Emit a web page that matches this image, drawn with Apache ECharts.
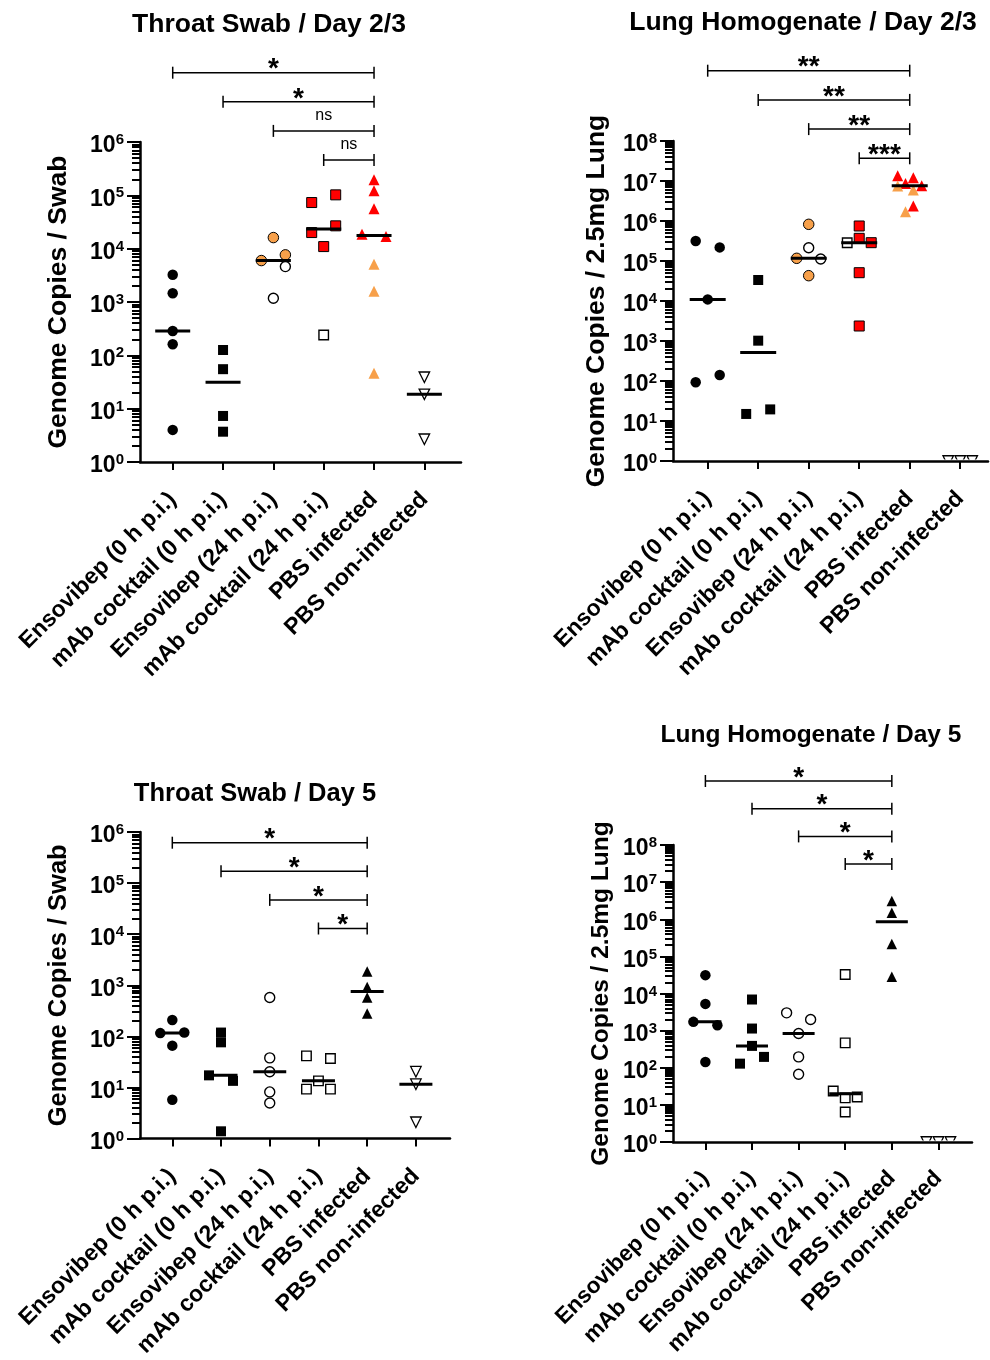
<!DOCTYPE html>
<html><head><meta charset="utf-8">
<script src="https://cdn.jsdelivr.net/npm/echarts@6/dist/echarts.min.js"></script>
<style>html,body{margin:0;padding:0;background:#fff}#c{width:990px;height:1360px}</style>
</head><body><div id="c"></div>
<script>
// ---------------- DATA ----------------
const categories = ['Ensovibep (0 h p.i.)', 'mAb cocktail (0 h p.i.)', 'Ensovibep (24 h p.i.)', 'mAb cocktail (24 h p.i.)', 'PBS infected', 'PBS non-infected'];
const titles = ['Throat Swab / Day 2/3', 'Lung Homogenate / Day 2/3', 'Throat Swab / Day 5', 'Lung Homogenate / Day 5'];
const yNames = ['Genome Copies / Swab', 'Genome Copies / 2.5mg Lung', 'Genome Copies / Swab', 'Genome Copies / 2.5mg Lung'];
const swabDecades = [1, 10, 100, 1e3, 1e4, 1e5, 1e6];
const lungDecades = [1, 10, 100, 1e3, 1e4, 1e5, 1e6, 1e7, 1e8];

// Throat swab, day 2/3
const ts23_enso0 = [3236, 1462, 287, 161, 4.0];
const ts23_mab0 = [126, 55, 7.3, 3.7];
const ts23_enso24_orange = [16144, 5984, 7656];
const ts23_enso24_white = [4613, 1178];
const ts23_mab24_red = [73282, 102100, 20045, 26792, 10940];
const ts23_mab24_white = [241];
const ts23_pbs_red = [195000, 121300, 56234, 18620, 16870];
const ts23_pbs_orange = [5117, 1585, 46];
const ts23_noninf = [38.8, 18.6, 2.67];
const ts23_brFrom = [0, 1, 2, 3];
const ts23_brTo = [4, 4, 4, 4];
const ts23_brLabel = ['*', '*', 'ns', 'ns'];

// Lung homogenate, day 2/3
const lh23_enso0 = [316000, 219000, 10960, 141, 93];
const lh23_mab0 = [33500, 1019, 15, 19.5];
const lh23_enso24_orange = [826000, 116700, 42950];
const lh23_enso24_white = [215300, 112200];
const lh23_mab24_red = [750000, 369000, 287000, 51000, 2371];
const lh23_mab24_white = [287000];
const lh23_pbs_red = [13600000, 12100000, 8710000, 7640000, 2370000];
const lh23_pbs_orange = [7500000, 5960000, 1710000];
const lh23_noninf = [1, 1, 1];
const lh23_brFrom = [0, 1, 2, 3];
const lh23_brTo = [4, 4, 4, 4];
const lh23_brLabel = ['**', '**', '**', '***'];

// Throat swab, day 5
const ts5_enso0 = [209, 116, 119, 66, 5.75];
const ts5_mab0 = [119, 76.6, 17.3, 13.5, 1.39];
const ts5_enso24 = [577, 38, 20.4, 8.2, 4.98];
const ts5_mab24 = [41.6, 37, 13.5, 9.3, 9.3];
const ts5_pbs = [1862, 929, 577, 282];
const ts5_noninf = [20.4, 11.6, 2.09];
const ts5_brFrom = [0, 1, 2, 3];
const ts5_brTo = [4, 4, 4, 4];
const ts5_brLabel = ['*', '*', '*', '*'];

// Lung homogenate, day 5
const lh5_enso0 = [31190, 5248, 1722, 1400, 143.6];
const lh5_mab0 = [6887, 1138, 388, 196, 129];
const lh5_enso24 = [3013, 1991, 834, 196, 66.8];
const lh5_mab24 = [32500, 468, 23.7, 15.4, 16.3, 6.44];
const lh5_pbs = [3090000, 1496000, 213800, 28120];
const lh5_noninf = [1, 1, 1];
const lh5_brFrom = [0, 1, 2, 3];
const lh5_brTo = [4, 4, 4, 4];
const lh5_brLabel = ['*', '*', '*', '*'];

// ---------------- LAYOUT / STYLE ----------------
const FONT = '"Liberation Sans", Arial, Helvetica, sans-serif';
const ORANGE = '#F7A04A';
const RED = '#FF0000';
const SLOT_PX = 12;

const styles = {
  blackCircle: {symbol: 'circle', size: 10.5, fill: '#000', stroke: '#000', bw: 0},
  orangeCircle: {symbol: 'circle', size: 10.5, fill: ORANGE, stroke: '#000', bw: 1},
  whiteCircle: {symbol: 'circle', size: 10, fill: '#fff', stroke: '#000', bw: 1.4},
  blackSquare: {symbol: 'rect', size: 10, fill: '#000', stroke: '#000', bw: 0},
  redSquare: {symbol: 'rect', size: 10, fill: RED, stroke: '#000', bw: 1},
  whiteSquare: {symbol: 'rect', size: 9.5, fill: '#fff', stroke: '#000', bw: 1.4},
  redTri: {symbol: 'triangle', size: 11, fill: RED, stroke: RED, bw: 0},
  orangeTri: {symbol: 'triangle', size: 11, fill: ORANGE, stroke: ORANGE, bw: 0},
  blackTri: {symbol: 'triangle', size: 10.5, fill: '#000', stroke: '#000', bw: 0},
  downTri: {symbol: 'triangle', size: 10.5, fill: '#fff', stroke: '#000', bw: 1.3, rotate: 180}
};

const panels = [
  {grid: {left: 140, top: 142, width: 321, height: 320}, xMin: -0.65, xMax: 5.728, decades: swabDecades,
   nameGap: 68, nameSize: 26.5, titleX: 264, titleY: 6, titleSize: 26.5, labelSize: 23, labelMargin: 34,
   brFirst: 72.7, brStep: 29.1, brFrom: ts23_brFrom, brTo: ts23_brTo, brLabel: ts23_brLabel, medW: 35,
   groups: [
     {g: 0, sets: [[ts23_enso0, 'blackCircle', [0, 0, 0, 0, 0]]]},
     {g: 1, sets: [[ts23_mab0, 'blackSquare', [0, 0, 0, 0]]]},
     {g: 2, sets: [[ts23_enso24_orange, 'orangeCircle', [0, -1, 1]], [ts23_enso24_white, 'whiteCircle', [1, 0]]]},
     {g: 3, sets: [[ts23_mab24_red, 'redSquare', [-1, 1, -1, 1, 0]], [ts23_mab24_white, 'whiteSquare', [0]]]},
     {g: 4, sets: [[ts23_pbs_red, 'redTri', [0, 0, 0, -1, 1]], [ts23_pbs_orange, 'orangeTri', [0, 0, 0]]]},
     {g: 5, sets: [[ts23_noninf, 'downTri', [0, 0, 0]]]}
   ]},
  {grid: {left: 673, top: 141, width: 315, height: 320}, xMin: -0.687, xMax: 5.55, decades: lungDecades,
   nameGap: 63, nameSize: 26.5, titleX: 798, titleY: 4, titleSize: 26.5, labelSize: 23, labelMargin: 34,
   brFirst: 70.7, brStep: 29.2, brFrom: lh23_brFrom, brTo: lh23_brTo, brLabel: lh23_brLabel, medW: 36,
   groups: [
     {g: 0, sets: [[lh23_enso0, 'blackCircle', [-1, 1, 0, 1, -1]]]},
     {g: 1, sets: [[lh23_mab0, 'blackSquare', [0, 0, -1, 1]]]},
     {g: 2, sets: [[lh23_enso24_orange, 'orangeCircle', [0, -1, 0]], [lh23_enso24_white, 'whiteCircle', [0, 1]]]},
     {g: 3, sets: [[lh23_mab24_red, 'redSquare', [0, 0, 1, 0, 0]], [lh23_mab24_white, 'whiteSquare', [-1]]]},
     {g: 4, sets: [[lh23_pbs_red, 'redTri', [-1, 0.3, -0.35, 1, 0.3]], [lh23_pbs_orange, 'orangeTri', [-1, 0.3, -0.35]]]},
     {g: 5, lod: true, sets: [[lh23_noninf, 'downTri', [-1, 0, 1]]]}
   ]},
  {grid: {left: 140, top: 832, width: 310, height: 310}, xMin: -0.663, xMax: 5.70, decades: swabDecades,
   nameGap: 68, nameSize: 25.5, titleX: 250, titleY: 776, titleSize: 25.5, labelSize: 23, labelMargin: 34,
   brFirst: 842.7, brStep: 28.6, brFrom: ts5_brFrom, brTo: ts5_brTo, brLabel: ts5_brLabel, medW: 33,
   groups: [
     {g: 0, sets: [[ts5_enso0, 'blackCircle', [0, -1, 1, 0, 0]]]},
     {g: 1, sets: [[ts5_mab0, 'blackSquare', [0, 0, -1, 1, 0]]]},
     {g: 2, sets: [[ts5_enso24, 'whiteCircle', [0, 0, 0, 0, 0]]]},
     {g: 3, sets: [[ts5_mab24, 'whiteSquare', [-1, 1, 0, -1, 1]]]},
     {g: 4, sets: [[ts5_pbs, 'blackTri', [0, 0, 0, 0]]]},
     {g: 5, sets: [[ts5_noninf, 'downTri', [0, 0, 0]]]}
   ]},
  {grid: {left: 673, top: 845, width: 299, height: 297}, xMin: -0.695, xMax: 5.72, decades: lungDecades,
   nameGap: 59, nameSize: 24.5, titleX: 806, titleY: 718, titleSize: 24.5, labelSize: 22.5, labelMargin: 33,
   brFirst: 781, brStep: 27.7, brFrom: lh5_brFrom, brTo: lh5_brTo, brLabel: lh5_brLabel, medW: 32,
   groups: [
     {g: 0, sets: [[lh5_enso0, 'blackCircle', [0, 0, -1, 1, 0]]]},
     {g: 1, sets: [[lh5_mab0, 'blackSquare', [0, 0, 0, 1, -1]]]},
     {g: 2, sets: [[lh5_enso24, 'whiteCircle', [-1, 1, 0, 0, 0]]]},
     {g: 3, sets: [[lh5_mab24, 'whiteSquare', [0, 0, -1, 0, 1, 0]]]},
     {g: 4, sets: [[lh5_pbs, 'blackTri', [0, 0, 0, 0]]]},
     {g: 5, lod: true, sets: [[lh5_noninf, 'downTri', [-1, 0, 1]]]}
   ]}
];

function median(arr) {
  const s = arr.slice().sort((a, b) => a - b);
  const n = s.length;
  return n % 2 ? s[(n - 1) / 2] : (s[n / 2 - 1] + s[n / 2]) / 2;
}
function minorTicks(decades) {
  const out = [];
  for (let i = 0; i < decades.length - 1; i++) for (let k = 2; k <= 9; k++) out.push(k * decades[i]);
  return out;
}
const catIdx = categories.map((_, i) => i);

const option = {
  animation: false,
  backgroundColor: '#fff',
  title: [], grid: [], xAxis: [], yAxis: [], series: []
};

panels.forEach((p, k) => {
  const spacing = p.grid.width / (p.xMax - p.xMin);
  option.title.push({
    text: titles[k], left: p.titleX, top: p.titleY, textAlign: 'center',
    textStyle: {fontFamily: FONT, fontSize: p.titleSize, fontWeight: 'bold', color: '#000'}
  });
  option.grid.push(Object.assign({containLabel: false}, p.grid));
  option.xAxis.push({
    type: 'value', gridIndex: k, min: p.xMin, max: p.xMax,
    axisLine: {show: true, onZero: false, lineStyle: {color: '#000', width: 2.5}},
    axisTick: {show: true, customValues: catIdx, length: 8, lineStyle: {color: '#000', width: 2}},
    axisLabel: {show: true, customValues: catIdx, formatter: v => categories[Math.round(v)], rotate: 45,
      margin: p.labelMargin, fontFamily: FONT, fontSize: p.labelSize, fontWeight: 'bold', color: '#000', hideOverlap: false},
    splitLine: {show: false}
  });
  const yMax = p.decades[p.decades.length - 1];
  option.yAxis.push({
    type: 'log', logBase: 10, gridIndex: k, min: 1, max: yMax, position: 'left',
    axisLine: {show: true, onZero: false, lineStyle: {color: '#000', width: 2.5}},
    axisTick: {show: true, customValues: p.decades, length: 13, lineStyle: {color: '#000', width: 2}},
    axisLabel: {show: true, customValues: p.decades, margin: 16, padding: [8, 0, 0, 0],
      formatter: v => '{b|10}{s|' + Math.round(Math.log10(v)) + '}',
      rich: {
        b: {fontFamily: FONT, fontSize: 23, fontWeight: 'bold', color: '#000', lineHeight: 27},
        s: {fontFamily: FONT, fontSize: 15, fontWeight: 'bold', color: '#000', verticalAlign: 'top'}
      }},
    splitLine: {show: false},
    name: yNames[k], nameLocation: 'middle', nameGap: p.nameGap,
    nameTextStyle: {fontFamily: FONT, fontSize: p.nameSize, fontWeight: 'bold', color: '#000'}
  });
  option.yAxis.push({
    type: 'log', logBase: 10, gridIndex: k, min: 1, max: yMax, position: 'left',
    axisLine: {show: false, onZero: false},
    axisTick: {show: true, customValues: minorTicks(p.decades), length: 8, lineStyle: {color: '#000', width: 2}},
    axisLabel: {show: false}, splitLine: {show: false}
  });
  const yIdx = 2 * k;
  const meds = [];
  p.groups.forEach(grp => {
    let all = [];
    grp.sets.forEach(([vals, st, slots]) => {
      all = all.concat(vals);
      const s = styles[st];
      const data = vals.map((v, i) => [grp.g + slots[i] * SLOT_PX / spacing, v]);
      if (grp.lod) {
        option.series.push({
          type: 'custom', xAxisIndex: k, yAxisIndex: yIdx, data, z: 3, silent: true,
          renderItem: (params, api) => {
            const c = api.coord([api.value(0), api.value(1)]);
            const h = s.size;
            const cs = params.coordSys;
            return {type: 'polygon', shape: {points: [[c[0] - h / 2, c[1] - h / 2], [c[0] + h / 2, c[1] - h / 2], [c[0], c[1] + h / 2]]},
              style: {fill: s.fill, stroke: s.stroke, lineWidth: s.bw},
              clipPath: {type: 'rect', shape: {x: cs.x, y: cs.y, width: cs.width, height: cs.height - 1.5}}};
          }
        });
      } else {
        option.series.push({
          type: 'scatter', xAxisIndex: k, yAxisIndex: yIdx, data, silent: true, z: 3,
          symbol: s.symbol, symbolSize: s.size, symbolRotate: s.rotate || 0,
          itemStyle: {color: s.fill, borderColor: s.stroke, borderWidth: s.bw, opacity: 1}
        });
      }
    });
    if (!grp.lod) meds.push([grp.g, median(all)]);
  });
  // median lines
  option.series.push({
    type: 'custom', xAxisIndex: k, yAxisIndex: yIdx, data: meds, z: 5, silent: true,
    renderItem: (params, api) => {
      const c = api.coord([api.value(0), api.value(1)]);
      return {type: 'line', shape: {x1: c[0] - p.medW / 2, y1: c[1], x2: c[0] + p.medW / 2, y2: c[1]},
        style: {stroke: '#000', lineWidth: 3}};
    }
  });
  // significance brackets
  const brData = p.brFrom.map((f, i) => [f, p.brTo[i], i + 1]);
  option.series.push({
    type: 'custom', xAxisIndex: k, yAxisIndex: yIdx, data: brData, z: 6, silent: true, clip: false,
    dimensions: ['from', 'to', 'row'], encode: {x: [0, 1], y: 2},
    renderItem: (params, api) => {
      const x1 = api.coord([api.value(0), 1])[0];
      const x2 = api.coord([api.value(1), 1])[0];
      const y = p.brFirst + (api.value(2) - 1) * p.brStep;
      const lab = p.brLabel[params.dataIndex];
      const isNs = lab === 'ns';
      return {type: 'group', children: [
        {type: 'line', shape: {x1, y1: y, x2, y2: y}, style: {stroke: '#000', lineWidth: 1.5}},
        {type: 'line', shape: {x1, y1: y - 6, x2: x1, y2: y + 6}, style: {stroke: '#000', lineWidth: 1.5}},
        {type: 'line', shape: {x1: x2, y1: y - 6, x2, y2: y + 6}, style: {stroke: '#000', lineWidth: 1.5}},
        {type: 'text', x: (x1 + x2) / 2, y: isNs ? y - 15 : y - 3,
          style: {text: lab, fill: '#000', align: 'center', verticalAlign: 'middle',
            font: isNs ? ('16px ' + FONT) : ('bold 28px ' + FONT)}}
      ]};
    }
  });
});

const chart = echarts.init(document.getElementById('c'), null, {renderer: 'canvas'});
chart.setOption(option);
</script></body></html>
